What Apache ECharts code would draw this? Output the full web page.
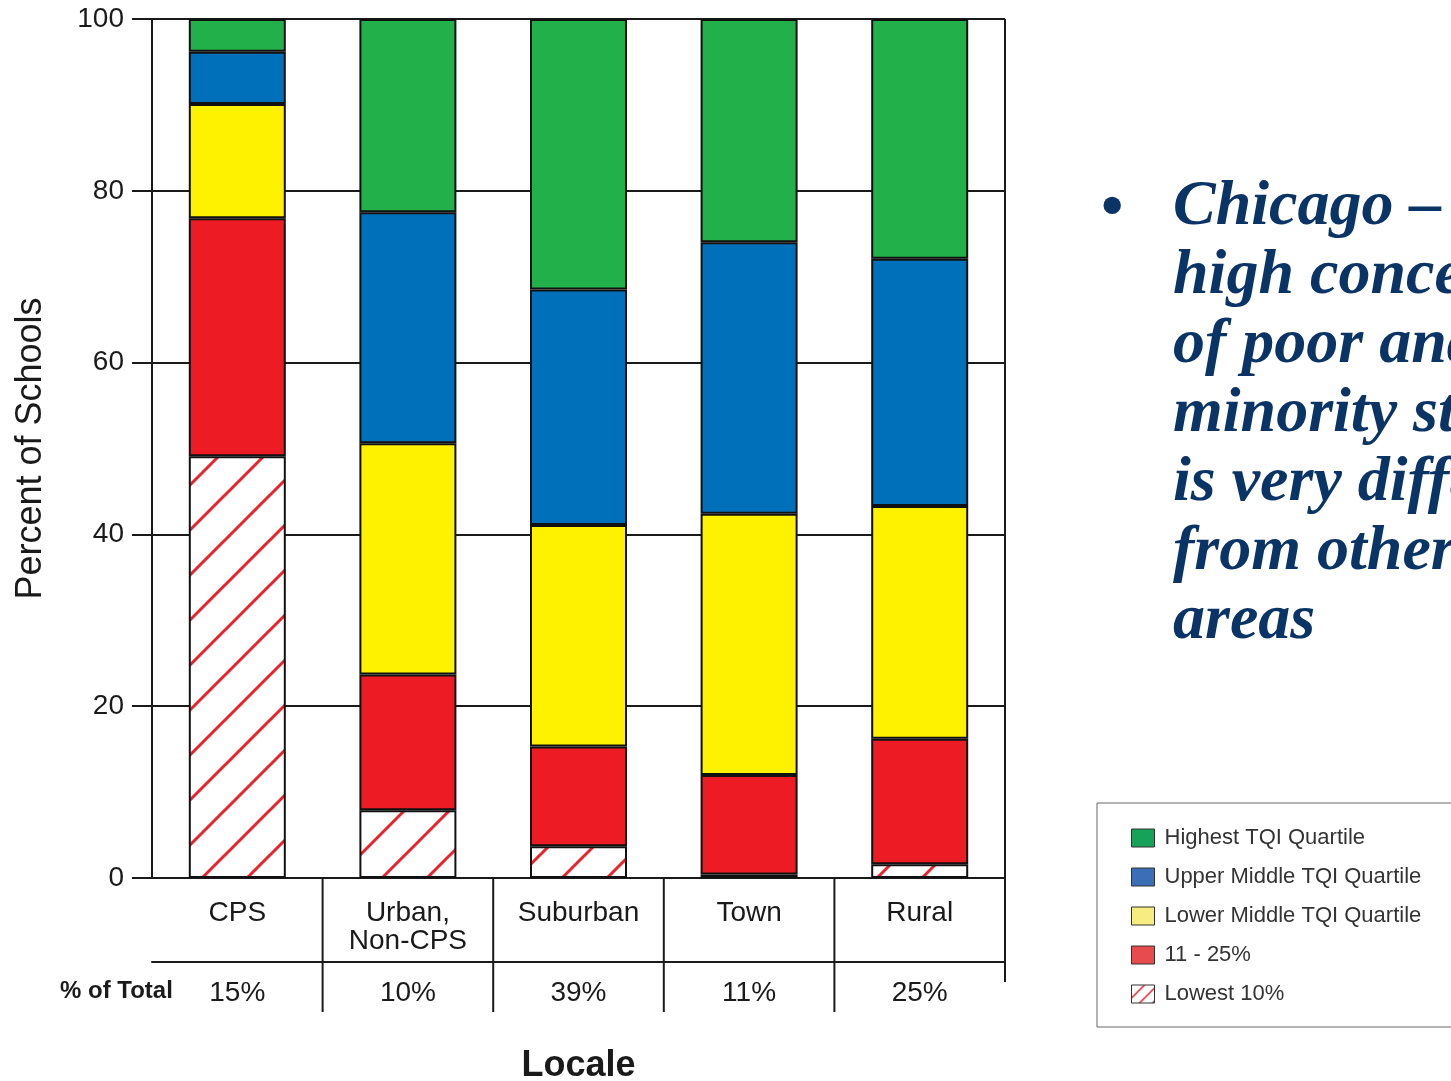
<!DOCTYPE html>
<html><head><meta charset="utf-8">
<script src="https://cdn.jsdelivr.net/npm/echarts@6/dist/echarts.min.js"></script>
<style>html,body{margin:0;padding:0;background:#fff;}#c{width:1451px;height:1081px;}</style>
</head><body><div id="c"></div>
<script>
// ---- data ----
const categories = ['CPS', 'Urban,\nNon-CPS', 'Suburban', 'Town', 'Rural'];
const pctOfTotal = ['15%', '10%', '39%', '11%', '25%'];
const lowest10    = [49.1, 7.9, 3.7, 0.4, 1.6];
const pct11to25   = [27.7, 15.8, 11.6, 11.6, 14.6];
const lowerMiddle = [13.3, 26.9, 25.8, 30.4, 27.1];
const upperMiddle = [6.1, 26.9, 27.4, 31.6, 28.8];
const highest     = [3.8, 22.5, 31.5, 26.0, 27.9];
const legendOrder = ['Highest TQI Quartile', 'Upper Middle TQI Quartile', 'Lower Middle TQI Quartile', '11 - 25%', 'Lowest 10%'];
const sideTextLines = ['Chicago \u2013', 'high concentration', 'of poor and', 'minority students', 'is very different', 'from other', 'areas'];

// ---- styles ----
const SANS = '"Liberation Sans", Arial, sans-serif';
const SERIF = '"Liberation Serif", "Times New Roman", serif';
const INK = '#1a1a1a';
const G = {left: 152, top: 19, width: 853, height: 859, outerBoundsMode: 'none', containLabel: false};

function hatch(size, lw) {
  const c = document.createElement('canvas');
  c.width = c.height = size;
  const g = c.getContext('2d');
  g.fillStyle = '#ffffff'; g.fillRect(0, 0, size, size);
  g.strokeStyle = '#e8232b'; g.lineWidth = lw;
  g.beginPath();
  [0, size, 2 * size].forEach(cc => { g.moveTo(cc - size - 2, size + 2); g.lineTo(cc + 2, -2); });
  g.stroke();
  return {image: c, repeat: 'repeat'};
}
const hatchBig = hatch(45, 3);
const hatchSmall = hatch(13, 1.5);

const barColors = {
  'Lowest 10%': hatchBig,
  '11 - 25%': '#ed1c24',
  'Lower Middle TQI Quartile': '#fff200',
  'Upper Middle TQI Quartile': '#0070bb',
  'Highest TQI Quartile': '#22b04b'
};
const legendColors = {
  'Highest TQI Quartile': '#17a25a',
  'Upper Middle TQI Quartile': '#3a6fb8',
  'Lower Middle TQI Quartile': '#f7ec82',
  '11 - 25%': '#e84b4e',
  'Lowest 10%': hatchSmall
};
const stackData = [
  ['Lowest 10%', lowest10],
  ['11 - 25%', pct11to25],
  ['Lower Middle TQI Quartile', lowerMiddle],
  ['Upper Middle TQI Quartile', upperMiddle],
  ['Highest TQI Quartile', highest]
];

const chart = echarts.init(document.getElementById('c'), null, {renderer: 'canvas'});
const option = {
  animation: false,
  backgroundColor: '#ffffff',
  grid: G,
  legend: {
    orient: 'vertical', left: 1097, top: 803,
    padding: [24, 90, 22, 34],
    borderColor: '#666', borderWidth: 1,
    itemWidth: 23, itemHeight: 18, itemGap: 17,
    selectedMode: false,
    icon: 'rect',
    textStyle: {fontFamily: SANS, fontSize: 22, color: '#333', padding: [0, 0, 0, 5]},
    data: legendOrder.map(n => ({name: n, icon: 'rect', itemStyle: {color: legendColors[n], borderColor: '#333', borderWidth: 1}}))
  },
  xAxis: [{
    type: 'category', data: categories, gridIndex: 0,
    name: 'Locale', nameLocation: 'middle', nameGap: 170,
    nameTextStyle: {fontFamily: SANS, fontSize: 36, fontWeight: 'bold', color: INK},
    axisLine: {lineStyle: {color: INK, width: 2}},
    axisTick: {alignWithLabel: true, length: 20, lineStyle: {color: INK, width: 2}},
    axisLabel: {fontFamily: SANS, fontSize: 28, color: INK, margin: 21, lineHeight: 28, interval: 0},
    splitLine: {show: false}
  }, {
    type: 'category', data: pctOfTotal, gridIndex: 0, position: 'bottom', offset: 84,
    axisLine: {lineStyle: {color: INK, width: 2}},
    axisTick: {show: false},
    axisLabel: {fontFamily: SANS, fontSize: 28, color: INK, margin: 17, lineHeight: 28, interval: 0},
    splitLine: {show: false}
  }],
  yAxis: {
    type: 'value', min: 0, max: 100, interval: 20,
    name: 'Percent of Schools', nameLocation: 'middle', nameGap: 103, nameRotate: 90,
    nameTextStyle: {fontFamily: SANS, fontSize: 36, color: INK},
    axisLine: {show: true, lineStyle: {color: INK, width: 2}},
    axisTick: {show: true, length: 20, lineStyle: {color: INK, width: 2}},
    axisLabel: {fontFamily: SANS, fontSize: 28, color: INK, margin: 28},
    splitLine: {show: true, lineStyle: {color: INK, width: 2}}
  },
  series: stackData.map(([name, vals]) => ({
    name, type: 'bar', stack: 'total', barWidth: 97,
    xAxisIndex: 0, yAxisIndex: 0,
    data: vals,
    itemStyle: {color: barColors[name], borderColor: '#111', borderWidth: 2},
    emphasis: {disabled: true}
  }))
};
chart.setOption(option);

// frame and table lines positioned through the axes' own scales
const centers = categories.map((_, i) => chart.convertToPixel({xAxisIndex: 0}, i));
const y0 = chart.convertToPixel({yAxisIndex: 0}, 0);
const y100 = chart.convertToPixel({yAxisIndex: 0}, 100);
const xRight = chart.convertToPixel({xAxisIndex: 0}, categories.length - 1) + (centers[1] - centers[0]) / 2;
const lines = [];
for (let i = 0; i < centers.length - 1; i++) {
  const xb = (centers[i] + centers[i + 1]) / 2;
  lines.push({type: 'line', shape: {x1: xb, y1: y0, x2: xb, y2: y0 + 134}, style: {stroke: INK, lineWidth: 2}});
}
lines.push({type: 'line', shape: {x1: xRight, y1: y100, x2: xRight, y2: y0 + 104}, style: {stroke: INK, lineWidth: 2}});
lines.push({type: 'text', x: 60, y: y0 + 113, style: {text: '% of Total', font: 'bold 24px ' + SANS, fill: INK, verticalAlign: 'middle', align: 'left'}});
lines.push({type: 'text', x: 1101, y: 177, style: {text: '\u2022', font: 'bold 64px ' + SERIF, fill: '#0a3366', verticalAlign: 'top'}});
lines.push({type: 'text', x: 1173, y: 173, style: {text: sideTextLines.join('\n'), font: 'italic bold 64px ' + SERIF, fill: '#0a3366', verticalAlign: 'top', lineHeight: 69}});
chart.setOption({graphic: lines});
</script>
</body></html>
